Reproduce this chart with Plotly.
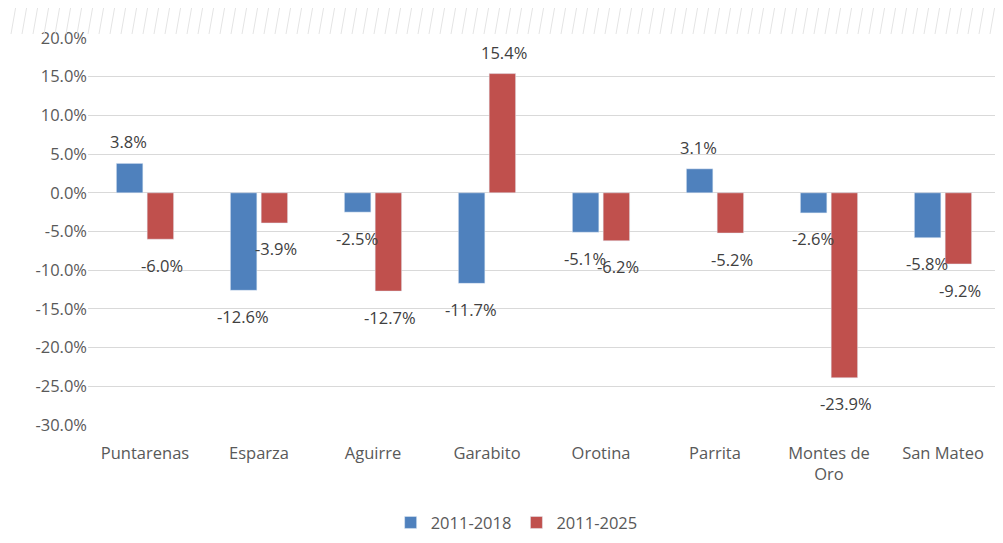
import plotly.graph_objects as go

categories = ["Puntarenas", "Esparza", "Aguirre", "Garabito", "Orotina", "Parrita", "Montes de<br>Oro", "San Mateo"]
series_names = ["2011-2018", "2011-2025"]
values_2018 = [3.8, -12.6, -2.5, -11.7, -5.1, 3.1, -2.6, -5.8]
values_2025 = [-6.0, -3.9, -12.7, 15.4, -6.2, -5.2, -23.9, -9.2]
tick_vals = [20, 15, 10, 5, 0, -5, -10, -15, -20, -25, -30]
tick_text = [f"{v:.1f}%" for v in tick_vals]

FONT = "'Open Sans', 'DejaVu Sans', sans-serif"
FS = 16.5
series = [(series_names[0], values_2018, "#4F81BD", -16.5),
          (series_names[1], values_2025, "#C0504D", 16.5)]

fig = go.Figure()
annotations = []
for name, vals, color, dx in series:
    fig.add_trace(go.Bar(x=categories, y=vals, name=name, marker_color=color))
    for cat, v in zip(categories, vals):
        annotations.append(dict(
            x=cat, y=v, xref="x", yref="y", text=f"{v:.1f}%", showarrow=False,
            xshift=dx, yshift=21.5 if v >= 0 else -26, yanchor="middle", xanchor="center",
            font=dict(size=FS, color="#404040", family=FONT)))

# page has an 8px body margin, so the figure is offset by 8px
FW, FH = 995, 535
L, W, T, H = 80, 912, 30, 387
shapes = []
for i in range(0, 95):
    px = i * 11 - 8
    shapes.append(dict(type="line", xref="paper", yref="paper",
                       x0=(px - L) / W, y0=1.0 + (T - 26) / H,
                       x1=(px + 6 - L) / W, y1=1.0 + (T + 8) / H,
                       line=dict(color="#E4E4E4", width=1)))

fig.update_layout(
    width=FW, height=FH,
    margin=dict(l=L, r=FW - L - W, t=T, b=FH - T - H, autoexpand=False),
    paper_bgcolor="white", plot_bgcolor="white",
    barmode="group", bargap=0.46, bargroupgap=0.14,
    font=dict(family=FONT, color="#595959", size=FS),
    showlegend=True,
    legend=dict(orientation="h", x=0.47, xanchor="center", y=-0.2525, yanchor="middle",
                font=dict(size=FS, color="#595959"), itemwidth=30, traceorder="normal"),
    shapes=shapes,
    annotations=annotations,
)
fig.update_yaxes(range=[-30, 20], tickvals=tick_vals, ticktext=tick_text,
                 showgrid=True, gridcolor="#D9D9D9", gridwidth=1,
                 zeroline=False, showline=False, ticks="", ticklen=0,
                 automargin=False,
                 tickfont=dict(size=FS, color="#595959"))
fig.update_xaxes(showgrid=False, showline=False, ticks="", automargin=False,
                 ticklabelstandoff=16,
                 tickfont=dict(size=FS, color="#595959"))
fig.write_html("out.html")
